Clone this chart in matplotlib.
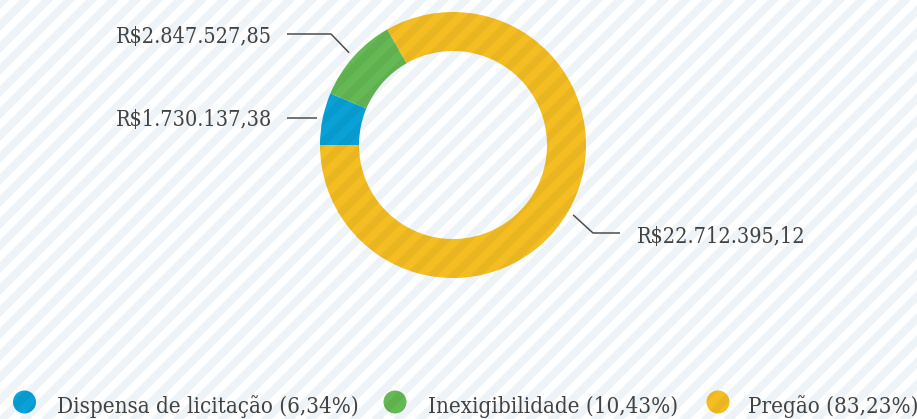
import numpy as np
import matplotlib.pyplot as plt
from matplotlib.patches import Polygon, Circle

# Contratações por modalidade (R$)
categories = ['Dispensa de licitação', 'Inexigibilidade', 'Pregão']
values = [1730137.38, 2847527.85, 22712395.12]
colors = ['#09a1d6', '#64b954', '#f4be22']

W, H = 917, 419
CX, CY, R = 453, 145, 133          # donut centre and outer radius, in pixels
TEXT = '#424242'
FONT = dict(family='DejaVu Serif', fontstretch='condensed')


def px(x, y):
    """pixel position (from top-left) -> pie data units"""
    return (x - CX) / R, (CY - y) / R


def brl(v):
    s = f'{v:,.2f}'.replace(',', 'X').replace('.', ',').replace('X', '.')
    return 'R$' + s


def stripes(ax, color, zorder, clip=None, alpha=1.0):
    # diagonal 45° bands, 22px apart horizontally, 11px wide
    step, w = 22 / R, 11 / R
    for d in np.arange(-6, 7, step):
        p = Polygon([(d - 8, -8), (d + 8, 8), (d + w + 8, 8), (d + w - 8, -8)],
                    closed=True, lw=0, fc=color, alpha=alpha, zorder=zorder)
        ax.add_patch(p)
        if clip is not None:
            p.set_clip_path(clip)


fig = plt.figure(figsize=(W / 100, H / 100), dpi=100, facecolor='white')
ax = fig.add_axes([0, 0, 1, 1])

wedges, _ = ax.pie(values, colors=colors, startangle=180, counterclock=False,
                   radius=1, wedgeprops=dict(width=39 / R, linewidth=0, zorder=1))
ax.set_xlim(-CX / R, (W - CX) / R)
ax.set_ylim(-(H - CY) / R, CY / R)
ax.axis('off')

# striped background and striped ring
stripes(ax, '#edf3f6', 0)
for w in wedges:
    stripes(ax, 'black', 2, clip=w, alpha=0.045)

# value labels with leader lines
layout = {
    'Dispensa de licitação': dict(elbow=None, end=287, text=(272, 126), ha='right'),
    'Inexigibilidade': dict(elbow=(331, 34), end=287, text=(272, 43), ha='right'),
    'Pregão': dict(elbow=(593, 233), end=620, text=(637, 243), ha='left'),
}
for w, cat, v in zip(wedges, categories, values):
    mid = np.deg2rad((w.theta1 + w.theta2) / 2)
    sx, sy = 1.045 * np.cos(mid), 1.045 * np.sin(mid)
    lay = layout[cat]
    xs, ys = [sx], [sy]
    if lay['elbow'] is not None:
        ex, ey = px(*lay['elbow'])
        xs.append(ex)
        ys.append(ey)
    xs.append(px(lay['end'], 0)[0])
    ys.append(ys[-1])
    ax.plot(xs, ys, color='#4d4d4d', lw=1.1, zorder=3, solid_capstyle='butt')
    tx, ty = px(*lay['text'])
    ax.text(tx, ty, brl(v), ha=lay['ha'], va='baseline', fontsize=15.5,
            color=TEXT, zorder=3, **FONT)

# legend row
total = sum(values)
legend_pos = [(24.5, 57), (395, 428), (718, 748)]
for (mx, tx), cat, v, c in zip(legend_pos, categories, values, colors):
    circ = Circle(px(mx, 402), 11.5 / R, fc=c, lw=0, zorder=1)
    ax.add_patch(circ)
    stripes(ax, 'black', 2, clip=circ, alpha=0.045)
    pct = f'{v / total * 100:.2f}'.replace('.', ',')
    ax.text(*px(tx, 413), f'{cat} ({pct}%)', ha='left', va='baseline',
            fontsize=16, color=TEXT, zorder=3, **FONT)

fig.savefig('out.png', dpi=100, facecolor='white')
